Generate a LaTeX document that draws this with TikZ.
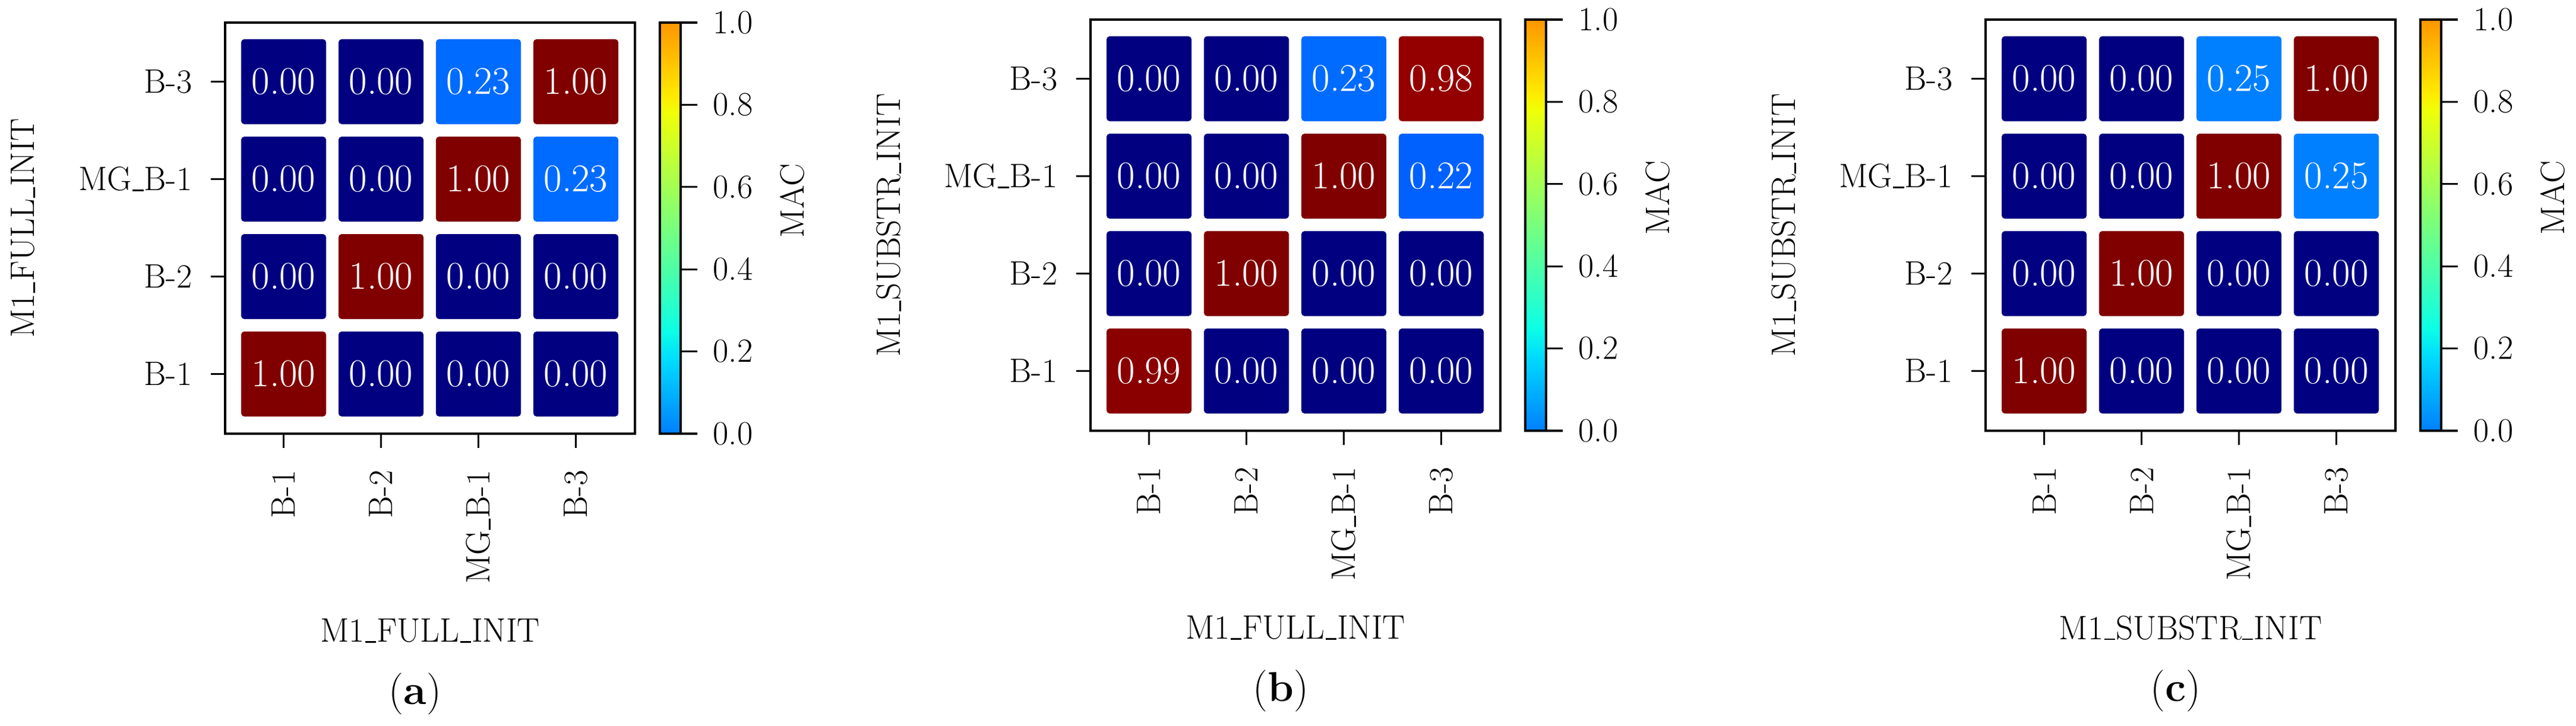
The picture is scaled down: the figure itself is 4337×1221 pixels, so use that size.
\documentclass[tikz,border=0pt]{standalone}
\usepackage{fontspec}
\begin{document}
\definecolor{j0}{rgb}{0,0,0.5}
\definecolor{j100}{rgb}{0.5,0,0}
\definecolor{j99}{rgb}{0.54,0,0}
\definecolor{j98}{rgb}{0.58,0,0}
\definecolor{j23}{rgb}{0,0.42,1}
\definecolor{j22}{rgb}{0,0.38,1}
\definecolor{j25}{rgb}{0,0.5,1}
\definecolor{s1}{rgb}{0,0,1}
\definecolor{s2}{rgb}{0,0.86,1}
\definecolor{s3}{rgb}{0.05,1,0.9}
\definecolor{s4}{rgb}{0.94,1,0.03}
\definecolor{s5}{rgb}{1,0.92,0}
\definecolor{s6}{rgb}{1,0.07,0}
\definecolor{s7}{rgb}{0.96,0,0}
\pgfdeclareverticalshading{jet}{100bp}{color(0bp)=(j0); color(11bp)=(s1); color(12.5bp)=(s1);
 color(34bp)=(s2); color(37.5bp)=(s3); color(64bp)=(s4); color(66bp)=(s5);
 color(89bp)=(s6); color(91bp)=(s7); color(100bp)=(j100)}
\newcommand\us{\kern0.02em\rule[-0.02em]{0.32em}{0.045em}\kern0.02em}
\newcommand\mypanel[6]{%
 \begin{scope}[shift={(#1,#2)}]
  \foreach \c/\r/\v/\k in {#6} {
   \fill[\k, rounded corners=1.5pt] ({27+164*\c},{28+164*\r}) rectangle ++(143,143);
   \node[celltext] (v#5\c\r) at ({98.5+164*\c},{99.5+164*\r}) {\v};
  }
  \draw[frame] (0,0) rectangle (690,692);
  \foreach \n [count=\i from 0] in {B-3,MG\us B-1,B-2,B-1} {
   \draw[frame] (0,{99.5+164*\i}) -- (-24,{99.5+164*\i});
   \node[lab, anchor=east] (yt#5\i) at (-55,{99.5+164*\i}) {\n};
  }
  \foreach \n [count=\i from 0] in {B-1,B-2,MG\us B-1,B-3} {
   \draw[frame] ({98.5+164*\i},692) -- ({98.5+164*\i},716);
   \node[lab, rotate=90, anchor=east] (xt#5\i) at ({98.5+164*\i},753) {\n};
  }
  \shade[shading=jet] (732,0) rectangle (767,692);
  \draw[frame] (732,0) rectangle (767,692);
  \foreach \t [count=\i from 0] in {0.0,0.2,0.4,0.6,0.8,1.0} {
   \draw[frame] (767,{692-138.4*\i}) -- (795,{692-138.4*\i});
   \node[lab, anchor=west] (cb#5\i) at (821,{692-138.4*\i}) {\t};
  }
  \node[lab, rotate=90] (mac#5) at (955,300) {MAC};
  \node[lab, rotate=90] (yl#5) at (-340,346) {#3};
  \node[lab] (xl#5) at (345,1024) {#4};
  \node[tag] (tag#5) at (320,1130) {(\textbf{#5})};
 \end{scope}}
\begin{tikzpicture}[x=0.01cm,y=-0.01cm,
  frame/.style={line width=0.9pt},
  lab/.style={inner sep=0pt, font=\fontsize{16.2}{18}\selectfont},
  celltext/.style={inner sep=0pt, text=white, font=\fontsize{18.8}{20}\selectfont},
  tag/.style={inner sep=0pt, font=\fontsize{20}{24}\selectfont}]
\useasboundingbox[fill=white] (0,0) rectangle (4337,1221);
\mypanel{379}{38}{M1\us FULL\us INIT}{M1\us FULL\us INIT}{a}{0/0/0.00/j0,1/0/0.00/j0,2/0/0.23/j23,3/0/1.00/j100,
 0/1/0.00/j0,1/1/0.00/j0,2/1/1.00/j100,3/1/0.23/j23,
 0/2/0.00/j0,1/2/1.00/j100,2/2/0.00/j0,3/2/0.00/j0,
 0/3/1.00/j100,1/3/0.00/j0,2/3/0.00/j0,3/3/0.00/j0}
\mypanel{1836}{33}{M1\us SUBSTR\us INIT}{M1\us FULL\us INIT}{b}{0/0/0.00/j0,1/0/0.00/j0,2/0/0.23/j23,3/0/0.98/j98,
 0/1/0.00/j0,1/1/0.00/j0,2/1/1.00/j100,3/1/0.22/j22,
 0/2/0.00/j0,1/2/1.00/j100,2/2/0.00/j0,3/2/0.00/j0,
 0/3/0.99/j99,1/3/0.00/j0,2/3/0.00/j0,3/3/0.00/j0}
\mypanel{3343}{33}{M1\us SUBSTR\us INIT}{M1\us SUBSTR\us INIT}{c}{0/0/0.00/j0,1/0/0.00/j0,2/0/0.25/j25,3/0/1.00/j100,
 0/1/0.00/j0,1/1/0.00/j0,2/1/1.00/j100,3/1/0.25/j25,
 0/2/0.00/j0,1/2/1.00/j100,2/2/0.00/j0,3/2/0.00/j0,
 0/3/1.00/j100,1/3/0.00/j0,2/3/0.00/j0,3/3/0.00/j0}
\end{tikzpicture}
\end{document}
